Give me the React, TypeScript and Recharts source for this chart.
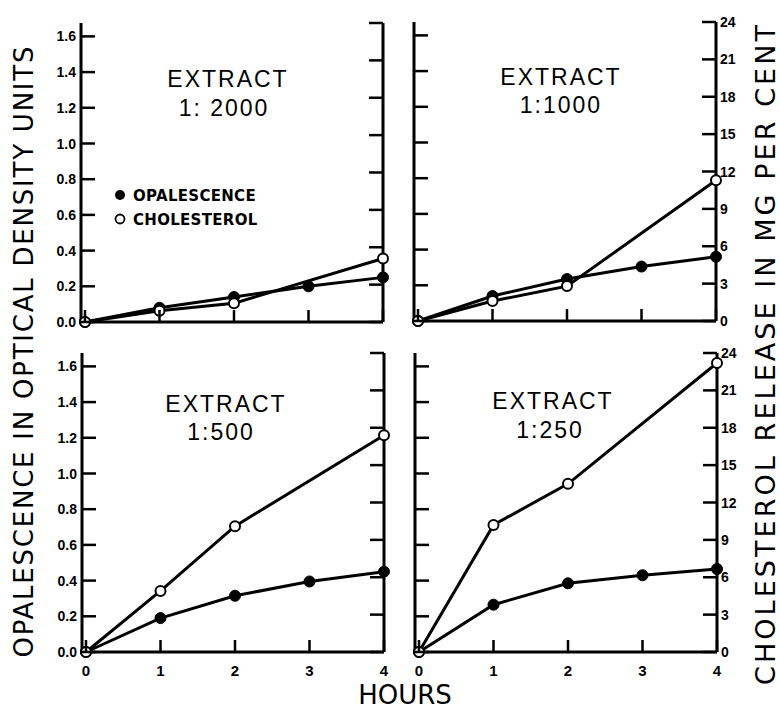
import React from 'react';
import { LineChart, Line, XAxis, YAxis } from 'recharts';

// ---- data ----
const hours = [0, 1, 2, 3, 4];
const hourTicks = [0, 1, 2, 3, 4];
const odTicks = [0, 0.2, 0.4, 0.6, 0.8, 1.0, 1.2, 1.4, 1.6];
const odTickLabels = ['0.0', '0.2', '0.4', '0.6', '0.8', '1.0', '1.2', '1.4', '1.6'];
const mgTicks = [0, 3, 6, 9, 12, 15, 18, 21, 24];

const opal2000 = [0, 0.08, 0.14, 0.2, 0.25];
const chol2000 = [0, 0.9, 1.5, null, 5.1];
const opal1000 = [0, 0.14, 0.235, 0.305, 0.36];
const chol1000 = [0, 1.6, 2.8, null, 11.3];
const opal500 = [0, 0.19, 0.315, 0.395, 0.45];
const chol500 = [0, 4.9, 10.1, null, 17.4];
const opal250 = [0, 0.265, 0.385, 0.43, 0.465];
const chol250 = [0, 10.2, 13.5, null, 23.2];

const FONT = '"Liberation Sans", Arial, sans-serif';
const WIDE = '"DejaVu Sans", "Liberation Sans", sans-serif';
const OD_MAX = 1.675;

// geometry
const PW = 302;
const PH = 299;
const LA = 60;
const RA = 50;
const MT = 10;
const XH = 40;
const TM = 4; // tick margin
const TL = 14; // inward tick length

const LeftTick = (show: boolean) => (props: any) => {
  const { x, y, payload } = props;
  const ax = x + TM;
  const idx = odTicks.indexOf(payload.value);
  return (
    <g>
      <line x1={ax} x2={ax + TL} y1={y} y2={y} stroke="#000" strokeWidth={2.5} />
      {show && (
        <text x={x - 1} y={y} dy="0.36em" textAnchor="end" fontSize={14} fontWeight="bold" fontFamily={FONT} fill="#000">
          {idx >= 0 ? odTickLabels[idx] : payload.value}
        </text>
      )}
    </g>
  );
};

const RightTick = (show: boolean) => (props: any) => {
  const { x, y, payload } = props;
  const ax = x - TM;
  return (
    <g>
      <line x1={ax} x2={ax - TL} y1={y} y2={y} stroke="#000" strokeWidth={2.5} />
      {show && (
        <text x={x} y={y} dy="0.36em" textAnchor="start" fontSize={14} fontWeight="bold" fontFamily={FONT} fill="#000">
          {payload.value}
        </text>
      )}
    </g>
  );
};

const BottomTick = (show: boolean) => (props: any) => {
  const { x, y, payload } = props;
  const ay = y - TM;
  return (
    <g>
      <line x1={x} x2={x} y1={ay} y2={ay - 12} stroke="#000" strokeWidth={2.5} />
      {show && (
        <text x={x} y={y + 9} dy="0.71em" textAnchor="middle" fontSize={15} fontWeight="bold" fontFamily={FONT} fill="#000">
          {payload.value}
        </text>
      )}
    </g>
  );
};

const OpenDot = (props: any) => {
  const { cx, cy, value } = props;
  if (value == null || cx == null || cy == null) return <g />;
  return <circle cx={cx} cy={cy} r={5} fill="#fff" stroke="#000" strokeWidth={2} />;
};

const FilledDot = (props: any) => {
  const { cx, cy, value } = props;
  if (value == null || cx == null || cy == null) return <g />;
  return <circle cx={cx} cy={cy} r={5.5} fill="#000" stroke="#000" strokeWidth={1} />;
};

type PanelProps = {
  plotLeft: number;
  plotTop: number;
  opal: (number | null)[];
  chol: (number | null)[];
  showLeft: boolean;
  showRight: boolean;
  showX: boolean;
};

const frame = { stroke: '#000', strokeWidth: 3 };

function Panel({ plotLeft, plotTop, opal, chol, showLeft, showRight, showX }: PanelProps) {
  const data = hours.map((h, i) => ({ h, opal: opal[i], chol: chol[i] }));
  return (
    <div style={{ position: 'absolute', left: plotLeft - LA, top: plotTop - MT }}>
      <LineChart width={LA + PW + RA} height={MT + PH + XH} data={data} margin={{ top: MT, right: 0, bottom: 0, left: 0 }}>
        <XAxis
          xAxisId="b"
          dataKey="h"
          type="number"
          domain={[0, 4]}
          ticks={hourTicks}
          padding={{ left: 4, right: 0 }}
          height={XH}
          stroke="#000"
          strokeWidth={3}
          axisLine={frame}
          tickLine={false}
          tickSize={0}
          tickMargin={TM}
          tick={BottomTick(showX)}
          interval={0}
        />
        <XAxis
          xAxisId="t"
          dataKey="h"
          type="number"
          orientation="top"
          domain={[0, 4]}
          padding={{ left: 4, right: 0 }}
          height={0}
          stroke="#000"
          strokeWidth={3}
          axisLine={frame}
          tickLine={false}
          tick={false}
        />
        <YAxis
          yAxisId="od"
          orientation="left"
          type="number"
          domain={[0, OD_MAX]}
          ticks={odTicks}
          width={LA}
          stroke="#000"
          strokeWidth={3}
          axisLine={frame}
          tickLine={false}
          tickSize={0}
          tickMargin={TM}
          tick={LeftTick(showLeft)}
          interval={0}
        />
        <YAxis
          yAxisId="mg"
          orientation="right"
          type="number"
          domain={[0, 24]}
          ticks={mgTicks}
          width={RA}
          stroke="#000"
          strokeWidth={3}
          axisLine={frame}
          tickLine={false}
          tickSize={0}
          tickMargin={TM}
          tick={RightTick(showRight)}
          interval={0}
        />
        <Line
          xAxisId="b"
          yAxisId="od"
          dataKey="opal"
          type="linear"
          stroke="#000"
          strokeWidth={3}
          dot={<FilledDot />}
          activeDot={false}
          isAnimationActive={false}
        />
        <Line
          xAxisId="b"
          yAxisId="mg"
          dataKey="chol"
          type="linear"
          stroke="#000"
          strokeWidth={3}
          connectNulls
          dot={<OpenDot />}
          activeDot={false}
          isAnimationActive={false}
        />
      </LineChart>
    </div>
  );
}

const titleStyle = { fontFamily: FONT, fontSize: 23, letterSpacing: 2, fill: '#000' } as const;
const legendStyle = { fontFamily: WIDE, fontSize: 15, fontWeight: 'bold', letterSpacing: 0.3, fill: '#000' } as const;

export default function App() {
  return (
    <div style={{ position: 'absolute', left: 0, top: 0, width: 780, height: 710, background: '#fff', overflow: 'hidden' }}>
      <Panel plotLeft={81} plotTop={23} opal={opal2000} chol={chol2000} showLeft showRight={false} showX={false} />
      <Panel plotLeft={414} plotTop={22} opal={opal1000} chol={chol1000} showLeft={false} showRight showX={false} />
      <Panel plotLeft={82} plotTop={353} opal={opal500} chol={chol500} showLeft showRight={false} showX />
      <Panel plotLeft={415} plotTop={353} opal={opal250} chol={chol250} showLeft={false} showRight showX />
      <svg width={780} height={710} style={{ position: 'absolute', left: 0, top: 0, pointerEvents: 'none' }}>
        {/* panel titles */}
        <text x={228} y={87} textAnchor="middle" {...titleStyle}>EXTRACT</text>
        <text x={224} y={116} textAnchor="middle" {...titleStyle}>1: 2000</text>
        <text x={561} y={85} textAnchor="middle" {...titleStyle}>EXTRACT</text>
        <text x={561} y={113} textAnchor="middle" {...titleStyle}>1:1000</text>
        <text x={226} y={412} textAnchor="middle" {...titleStyle}>EXTRACT</text>
        <text x={221} y={440} textAnchor="middle" {...titleStyle}>1:500</text>
        <text x={553} y={409} textAnchor="middle" {...titleStyle}>EXTRACT</text>
        <text x={550} y={438} textAnchor="middle" {...titleStyle}>1:250</text>
        {/* legend */}
        <circle cx={120} cy={195} r={5} fill="#000" />
        <text x={133} y={200.5} {...legendStyle}>OPALESCENCE</text>
        <circle cx={120} cy={219} r={4.5} fill="#fff" stroke="#000" strokeWidth={1.8} />
        <text x={133} y={224.5} {...legendStyle}>CHOLESTEROL</text>
        {/* axis titles */}
        <text transform="translate(33,352) rotate(-90)" textAnchor="middle" fontFamily={WIDE} fontSize={26} textLength={611} lengthAdjust="spacing">
          OPALESCENCE IN OPTICAL DENSITY UNITS
        </text>
        <text transform="translate(775,355) rotate(-90)" textAnchor="middle" fontFamily={WIDE} fontSize={27} textLength={660} lengthAdjust="spacing">
          CHOLESTEROL RELEASE IN MG PER CENT
        </text>
        <text x={405} y={704} textAnchor="middle" fontFamily={WIDE} fontSize={26}>HOURS</text>
      </svg>
    </div>
  );
}
